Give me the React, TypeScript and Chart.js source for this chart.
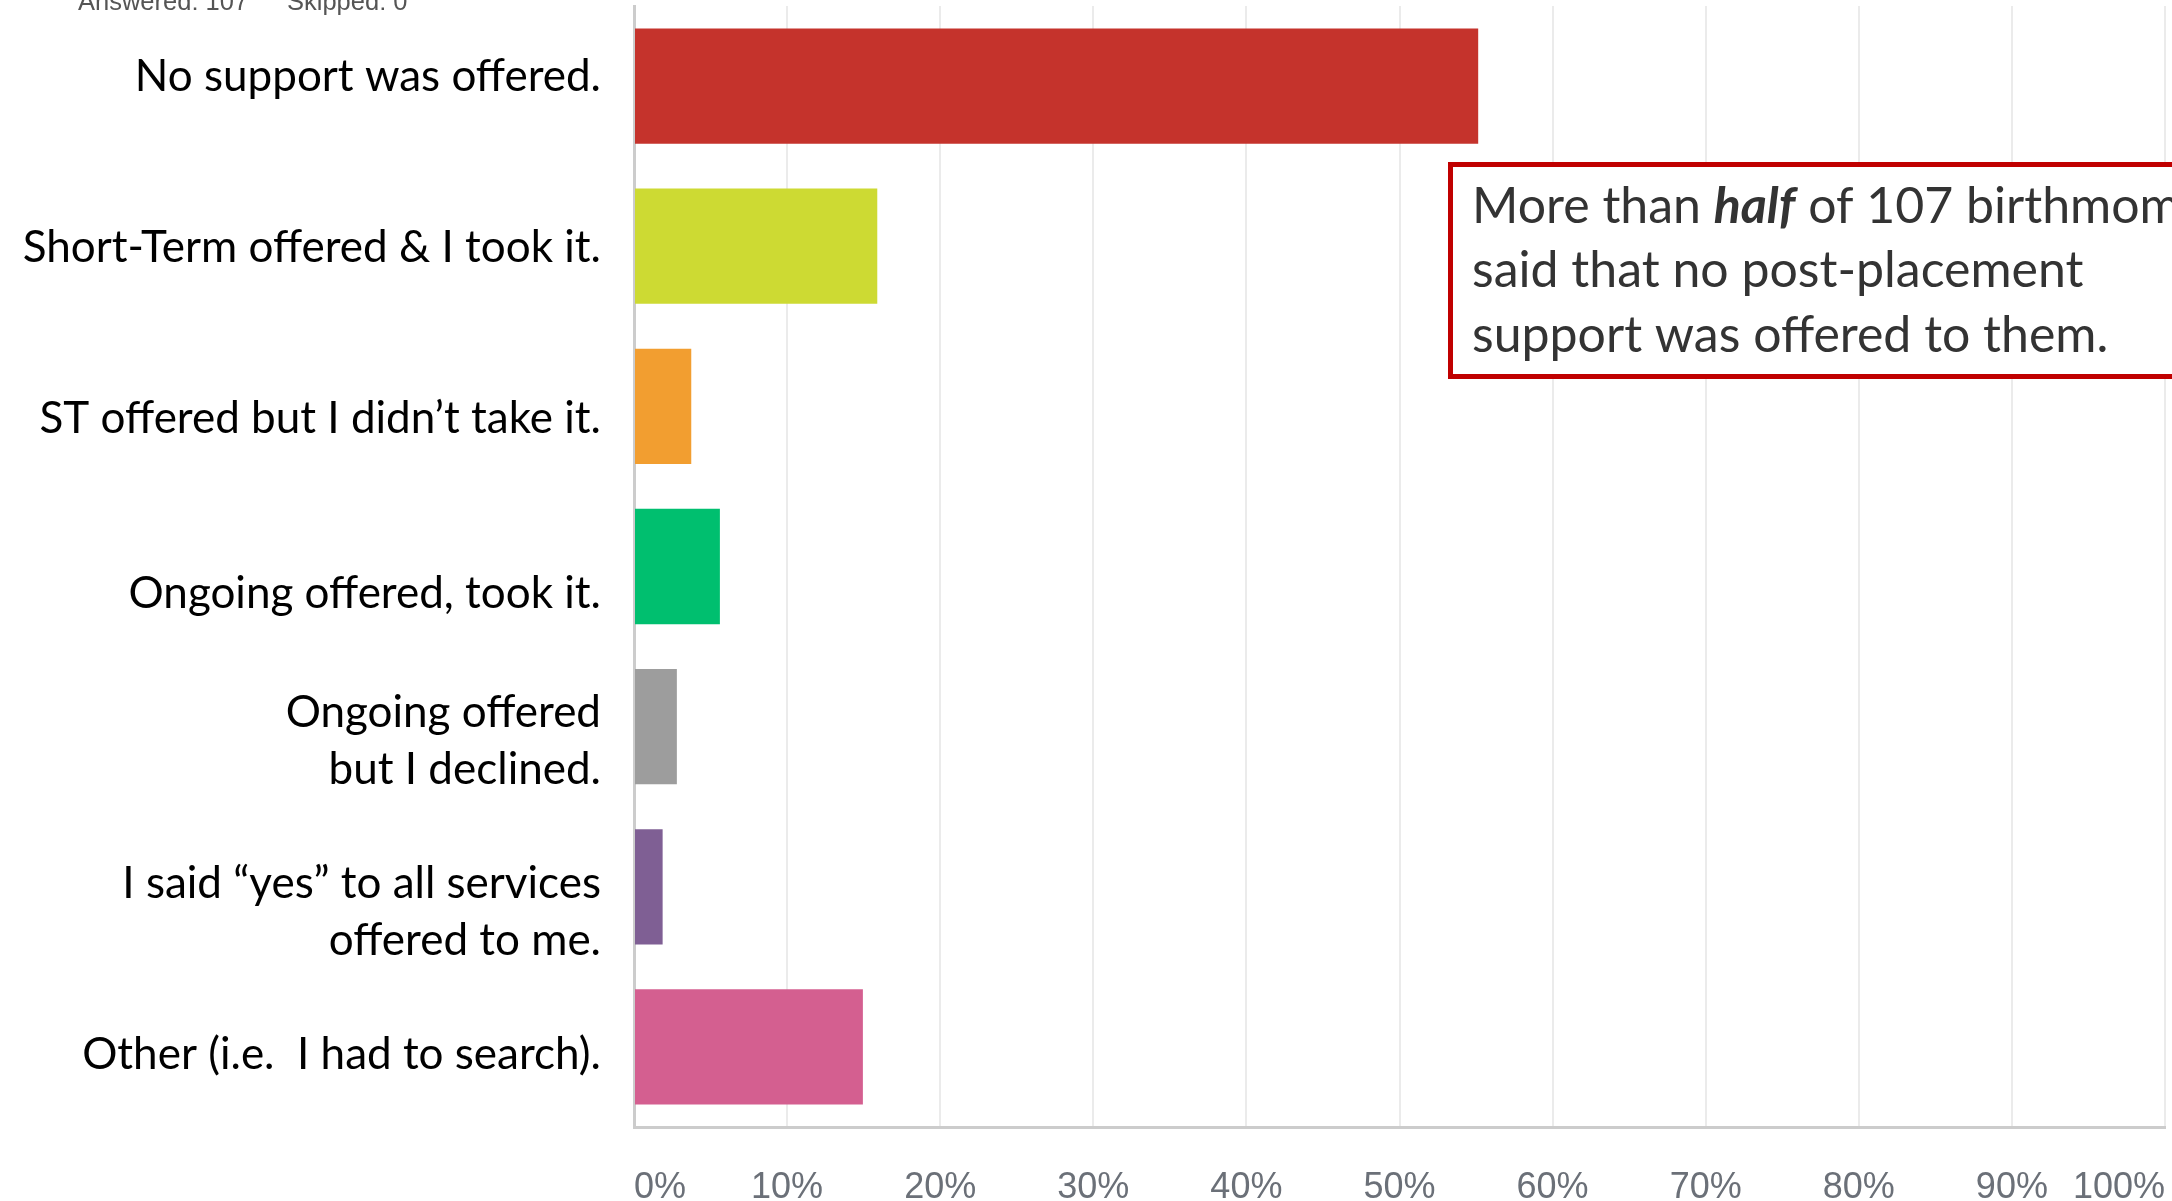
import React, { useEffect, useRef } from "react";
import { Chart, registerables } from "chart.js";

Chart.register(...registerables);

const categories: (string | string[])[] = [
  "No support was offered.",
  "Short-Term offered & I took it.",
  "ST offered but I didn\u2019t take it.",
  "Ongoing offered, took it.",
  ["Ongoing offered", "but I declined."],
  ["I said \u201cyes\u201d to all services", "offered to me."],
  "Other (i.e.  I had to search).",
];
// where each category's text label sits along the category axis (in category units, 0 = top)
const labelSlots = [0.44, 1.51, 2.58, 3.67, 4.59, 5.66, 6.55];
const percentages = [55.14, 15.89, 3.74, 5.61, 2.8, 1.87, 14.95];
const barColors = ["#c5332c", "#cdda33", "#f29e30", "#00bf6f", "#9d9d9d", "#7f5f94", "#d45f90"];
const xMin = 0;
const xMax = 100;
const xStep = 10;
const answeredText = "Answered: 107";
const skippedText = "Skipped: 0";
const noteLine1 = ["More than ", "half", " of 107 birthmoms"];
const noteLine2 = "said that no post-placement";
const noteLine3 = "support was offered to them.";

const LABEL_FONT = "Lato, 'Open Sans', sans-serif";
const TICK_FONT = "'Liberation Sans', Arial, sans-serif";

export default function App() {
  const ref = useRef<HTMLCanvasElement | null>(null);

  useEffect(() => {
    document.body.style.margin = "0";
    const canvas = ref.current;
    if (!canvas) return;

    const overlay = {
      id: "overlay",
      afterDraw(chart: any) {
        const ctx = chart.ctx as CanvasRenderingContext2D;
        ctx.save();
        // header (partially cut at top)
        ctx.font = `25.5px ${TICK_FONT}`;
        ctx.fillStyle = "#555555";
        ctx.textAlign = "left";
        ctx.textBaseline = "alphabetic";
        ctx.fillText(answeredText, 78, 10);
        ctx.fillText(skippedText, 287, 10);

        // annotation box
        const left = 1448;
        const top = 162;
        const bottom = 379;
        const bw = 5;
        ctx.fillStyle = "#ffffff";
        ctx.fillRect(left, top, 900, bottom - top);
        ctx.lineWidth = bw;
        ctx.strokeStyle = "#c00000";
        ctx.strokeRect(left + bw / 2, top + bw / 2, 900, bottom - top - bw);

        const tx = 1472;
        const fs = 50;
        ctx.fillStyle = "#333333";
        let cx = tx;
        noteLine1.forEach((seg, i) => {
          ctx.font = i === 1 ? `italic bold ${fs}px ${LABEL_FONT}` : `${fs}px ${LABEL_FONT}`;
          ctx.fillText(seg, cx, 223);
          cx += ctx.measureText(seg).width;
        });
        ctx.font = `${fs}px ${LABEL_FONT}`;
        ctx.fillText(noteLine2, tx, 287);
        ctx.fillText(noteLine3, tx, 352);
        ctx.restore();
      },
    };

    const chart = new Chart(canvas, {
      type: "bar",
      data: {
        labels: categories,
        datasets: [
          {
            data: percentages,
            backgroundColor: barColors,
            borderWidth: 0,
            barPercentage: 0.72,
            categoryPercentage: 1,
          },
        ],
      },
      options: {
        indexAxis: "y",
        responsive: false,
        animation: false,
        events: [],
        layout: { padding: { top: 6, right: 7, left: 0, bottom: 0 } },
        plugins: {
          legend: { display: false },
          tooltip: { enabled: false },
          title: { display: false },
        },
        scales: {
          x: {
            min: xMin,
            max: xMax,
            grid: { color: "#ebebeb", lineWidth: 2, drawTicks: false },
            border: { display: true, color: "#cccccc", width: 3 },
            ticks: {
              stepSize: xStep,
              autoSkip: false,
              maxRotation: 0,
              align: "inner",
              padding: 39,
              color: "#6b7078",
              font: { family: TICK_FONT, size: 36 },
              callback: (v: any) => `${v}%`,
            },
            afterFit: (s: any) => {
              s.height = 74;
              s.paddingLeft = 0;
              s.paddingRight = 0;
            },
          },
          y: {
            position: "left",
            grid: { display: false, drawTicks: false },
            border: { display: false },
            ticks: { display: false },
            afterFit: (s: any) => {
              s.width = 0;
              s.paddingTop = 0;
              s.paddingBottom = 0;
            },
          },
          yLabels: {
            type: "linear",
            position: "left",
            offset: false,
            min: 0,
            max: categories.length,
            reverse: true,
            grid: { display: false, drawTicks: false, offset: false },
            border: { display: true, color: "#cccccc", width: 3 },
            afterBuildTicks: (s: any) => {
              s.ticks = labelSlots.map((v) => ({ value: v }));
            },
            ticks: {
              autoSkip: false,
              padding: 33,
              color: "#000000",
              font: { family: LABEL_FONT, size: 44, lineHeight: 1.3 },
              callback: (_v: any, i: number) => categories[i],
            },
            afterFit: (s: any) => {
              s.width = 634;
              s.paddingTop = 0;
              s.paddingBottom = 0;
            },
          },
        },
      },
      plugins: [overlay],
    });

    return () => chart.destroy();
  }, []);

  return (
    <div style={{ width: 2172, height: 1201, background: "#fff" }}>
      <canvas ref={ref} width={2172} height={1201} style={{ display: "block" }} />
    </div>
  );
}
